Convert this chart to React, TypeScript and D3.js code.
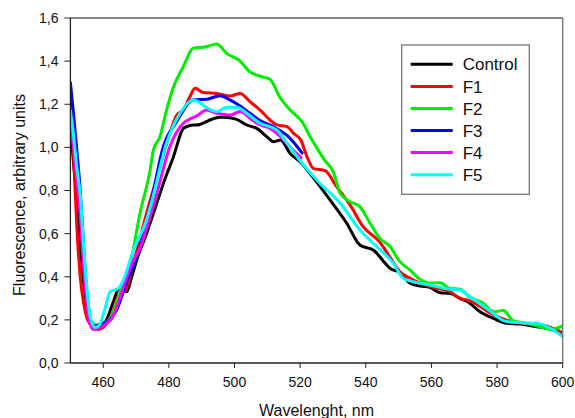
import React from "react";
import * as d3 from "d3";

type Pt = [number, number];

const yTicks = [0, 0.2, 0.4, 0.6, 0.8, 1.0, 1.2, 1.4, 1.6];
const xTicks = [460, 480, 500, 520, 540, 560, 580, 600];

const control: Pt[] = [
  [450, 1.1], [451, 0.92], [452, 0.76], [453, 0.55], [454, 0.38], [455, 0.26], [456, 0.19], [457.5, 0.165],
  [459, 0.168], [461, 0.2], [463, 0.28], [464.6, 0.339], [466, 0.335], [467.2, 0.331], [468.5, 0.39],
  [470.2, 0.478], [473.2, 0.6], [476.3, 0.74], [478.5, 0.84], [481.4, 0.957], [484.4, 1.088], [485.4, 1.096],
  [487.4, 1.104], [488.5, 1.104], [491.5, 1.12], [492.5, 1.127], [495.6, 1.14], [496.6, 1.14], [500.7, 1.13],
  [503.7, 1.104], [506.8, 1.088], [509.8, 1.05], [512, 1.026], [514, 1.034], [516.9, 0.973], [520.2, 0.93],
  [524, 0.86], [529.1, 0.756], [534.2, 0.648], [538.2, 0.547], [542.5, 0.522], [545.5, 0.47], [547.4, 0.439],
  [550.4, 0.419], [553.5, 0.37], [556.5, 0.357], [559.5, 0.351], [562.6, 0.326], [565.6, 0.323], [568.7, 0.3],
  [571.7, 0.277], [574.8, 0.238], [578.9, 0.207], [582.9, 0.184], [587, 0.181], [592.1, 0.168], [597.2, 0.153],
  [600, 0.13],
];

const f1: Pt[] = [
  [450, 1.27], [451, 0.95], [452, 0.62], [453, 0.4], [454, 0.28], [455, 0.21], [456, 0.18], [457, 0.165],
  [458.5, 0.155], [460, 0.165], [462.1, 0.207], [465.1, 0.323], [466.6, 0.331], [469.2, 0.462], [473.2, 0.694],
  [477.3, 0.91], [480.3, 1.065], [482.4, 1.15], [484.4, 1.173], [486.4, 1.235], [488, 1.274], [490.5, 1.254],
  [494.6, 1.25], [498.6, 1.238], [501.7, 1.25], [504.7, 1.212], [507.8, 1.173], [510.8, 1.127], [512.9, 1.104],
  [516, 1.096], [518, 1.065], [520.2, 1.034], [522, 0.96], [524, 0.903], [527.6, 0.892], [531.1, 0.818],
  [535.2, 0.733], [539.2, 0.632], [544.3, 0.56], [547.4, 0.49], [550.4, 0.423], [553.5, 0.393], [559.5, 0.354],
  [565.6, 0.331], [568.7, 0.3], [571.7, 0.288], [578.9, 0.223], [582.9, 0.199], [589, 0.181], [594, 0.175],
  [600, 0.14],
];

const f2: Pt[] = [
  [456.5, 0.19], [458, 0.176], [460, 0.185], [462.1, 0.207], [464, 0.28], [466.1, 0.37], [468.5, 0.48],
  [471.2, 0.694], [474.3, 0.895], [475.3, 0.988], [477.3, 1.05], [479.3, 1.173], [481.4, 1.28], [484.4, 1.374],
  [487.4, 1.46], [491.5, 1.467], [494.6, 1.48], [497.6, 1.436], [501.7, 1.4], [504.7, 1.35], [507.8, 1.33],
  [510.8, 1.316], [513.9, 1.23], [516.9, 1.175], [520.9, 1.112], [523, 1.05], [525, 1.0], [527.5, 0.94],
  [530, 0.89], [532.2, 0.787], [535.2, 0.748], [538.2, 0.725], [541.3, 0.648], [544.3, 0.578], [547.4, 0.54],
  [550.4, 0.47], [553.5, 0.431], [556.5, 0.388], [559.5, 0.37], [562.6, 0.372], [565.6, 0.346], [568.7, 0.342],
  [571.7, 0.305], [575.8, 0.277], [578.9, 0.238], [581.9, 0.243], [585, 0.195], [589, 0.184], [593.1, 0.168],
  [596.2, 0.156], [600, 0.172],
];

const f3: Pt[] = [
  [450, 1.3], [451, 1.15], [452, 0.98], [453, 0.8], [454, 0.55], [455, 0.33], [456, 0.21], [457, 0.17],
  [458.5, 0.175], [460, 0.185], [462, 0.2], [464.1, 0.246], [467, 0.37], [471.2, 0.54], [474.5, 0.74],
  [478.3, 1.003], [482.4, 1.12], [487.4, 1.22], [491.5, 1.223], [495.6, 1.24], [498.6, 1.22], [501.7, 1.192],
  [504.7, 1.158], [507.8, 1.124], [511.8, 1.096], [516.4, 1.05], [520.6, 0.974],
];

const f4: Pt[] = [
  [450, 1.13], [451, 1.0], [452, 0.85], [453, 0.68], [454, 0.45], [455, 0.28], [456, 0.18], [457, 0.155],
  [459, 0.165], [461, 0.184], [462.6, 0.207], [465, 0.3], [467.2, 0.4], [469, 0.47], [471.2, 0.532],
  [473.2, 0.625], [475.8, 0.756], [480.3, 1.003], [484.4, 1.112], [485.9, 1.127], [488.5, 1.146], [491.5, 1.173],
  [494.6, 1.158], [498.6, 1.15], [501.7, 1.166], [504.7, 1.135], [507.8, 1.104], [510.8, 1.088], [514, 1.05],
  [517, 1.0], [520.3, 0.951],
];

const f5: Pt[] = [
  [450, 1.17], [451, 1.05], [452, 0.9], [453, 0.78], [454, 0.55], [455, 0.35], [456, 0.22], [457.5, 0.164],
  [459, 0.18], [460.5, 0.25], [462.1, 0.33], [464.6, 0.346], [466, 0.38], [469.2, 0.524], [473.2, 0.663],
  [474.8, 0.75], [479.3, 1.02], [483.4, 1.158], [487.4, 1.22], [488.5, 1.215], [491.5, 1.185], [494.6, 1.166],
  [497.6, 1.186], [500.7, 1.186], [503.7, 1.158], [507.8, 1.112], [512.9, 1.081], [515.5, 1.03], [520.2, 0.934],
  [526, 0.834], [532.2, 0.741], [538.2, 0.617], [543.3, 0.54], [548.4, 0.462], [551.4, 0.393], [554.5, 0.377],
  [559.5, 0.362], [565.6, 0.342], [568.7, 0.339], [571.7, 0.308], [576.8, 0.254], [582.9, 0.192], [587, 0.187],
  [592.1, 0.184], [596.2, 0.161], [600, 0.122],
];

const seriesNames = ["Control", "F1", "F2", "F3", "F4", "F5"];
const seriesColors = ["#000000", "#ff0000", "#00ee00", "#0000ff", "#ff00ff", "#00ffff"];
const seriesData = [control, f1, f2, f3, f4, f5];

const W = 575;
const H = 418;
const left = 70.4;
const right = 562.7;
const top = 18;
const bottom = 363;
const FONT = "'Liberation Sans', Arial, sans-serif";

export default function App() {
  const x = d3.scaleLinear().domain([450, 600]).range([left, right]);
  const y = d3.scaleLinear().domain([0, 1.6]).range([bottom, top]);
  const line = d3
    .line<Pt>()
    .x((d) => x(d[0]))
    .y((d) => y(d[1]))
    .curve(d3.curveMonotoneX);
  const fmt = (v: number) => v.toFixed(1).replace(".", ",");

  const legX = 401.7;
  const legY = 45;
  const legW = 127.6;
  const legH = 149.3;
  const rowY0 = 64.3;
  const rowStep = 22.08;

  return (
    <svg
      width={W}
      height={H}
      style={{ position: "absolute", left: 0, top: 0, background: "#fff" }}
      fontFamily={FONT}
    >
      <defs>
        <clipPath id="plotClip">
          <rect x={left} y={top - 2} width={right - left} height={bottom - top + 2} />
        </clipPath>
      </defs>
      <rect x={0} y={0} width={W} height={H} fill="#fff" />
      <g clipPath="url(#plotClip)">
        {seriesData.map((d, i) => (
          <path
            key={seriesNames[i]}
            d={line(d) || ""}
            fill="none"
            stroke={seriesColors[i]}
            strokeWidth={3}
            strokeLinejoin="round"
            strokeLinecap="round"
          />
        ))}
      </g>
      {/* frame */}
      <line x1={left} x2={right} y1={top} y2={top} stroke="#111" strokeWidth={1.2} />
      <line x1={right} x2={right} y1={top} y2={bottom} stroke="#777" strokeWidth={1.4} />
      <line x1={left} x2={left} y1={top} y2={bottom} stroke="#222" strokeWidth={1.3} />
      <line x1={left} x2={right} y1={bottom} y2={bottom} stroke="#222" strokeWidth={1.3} />
      {/* y ticks */}
      {yTicks.map((t) => (
        <g key={"y" + t}>
          <line x1={left - 6} x2={left} y1={y(t)} y2={y(t)} stroke="#222" strokeWidth={1} />
          <text x={58.5} y={y(t)} dy="0.35em" textAnchor="end" fontSize={14} fill="#111">
            {fmt(t)}
          </text>
        </g>
      ))}
      {/* x ticks */}
      {xTicks.map((t) => (
        <g key={"x" + t}>
          <line x1={x(t)} x2={x(t)} y1={bottom} y2={bottom + 5} stroke="#222" strokeWidth={1} />
          <text x={x(t)} y={387.3} textAnchor="middle" fontSize={14} fill="#111">
            {t}
          </text>
        </g>
      ))}
      <text
        transform={`translate(25,195) rotate(-90)`}
        textAnchor="middle"
        fontSize={16}
        fill="#111"
      >
        Fluorescence, arbitrary units
      </text>
      <text x={(left + right) / 2} y={416} textAnchor="middle" fontSize={16} fill="#111">
        Wavelenght, nm
      </text>
      {/* legend */}
      <rect x={legX} y={legY} width={legW} height={legH} fill="#fff" stroke="#777" strokeWidth={1.3} />
      {seriesNames.map((n, i) => (
        <g key={"leg" + n}>
          <line
            x1={410.7}
            x2={452.7}
            y1={rowY0 + i * rowStep}
            y2={rowY0 + i * rowStep}
            stroke={seriesColors[i]}
            strokeWidth={3}
          />
          <text x={462.7} y={rowY0 + i * rowStep} dy="0.36em" fontSize={17} fill="#111">
            {n}
          </text>
        </g>
      ))}
    </svg>
  );
}
